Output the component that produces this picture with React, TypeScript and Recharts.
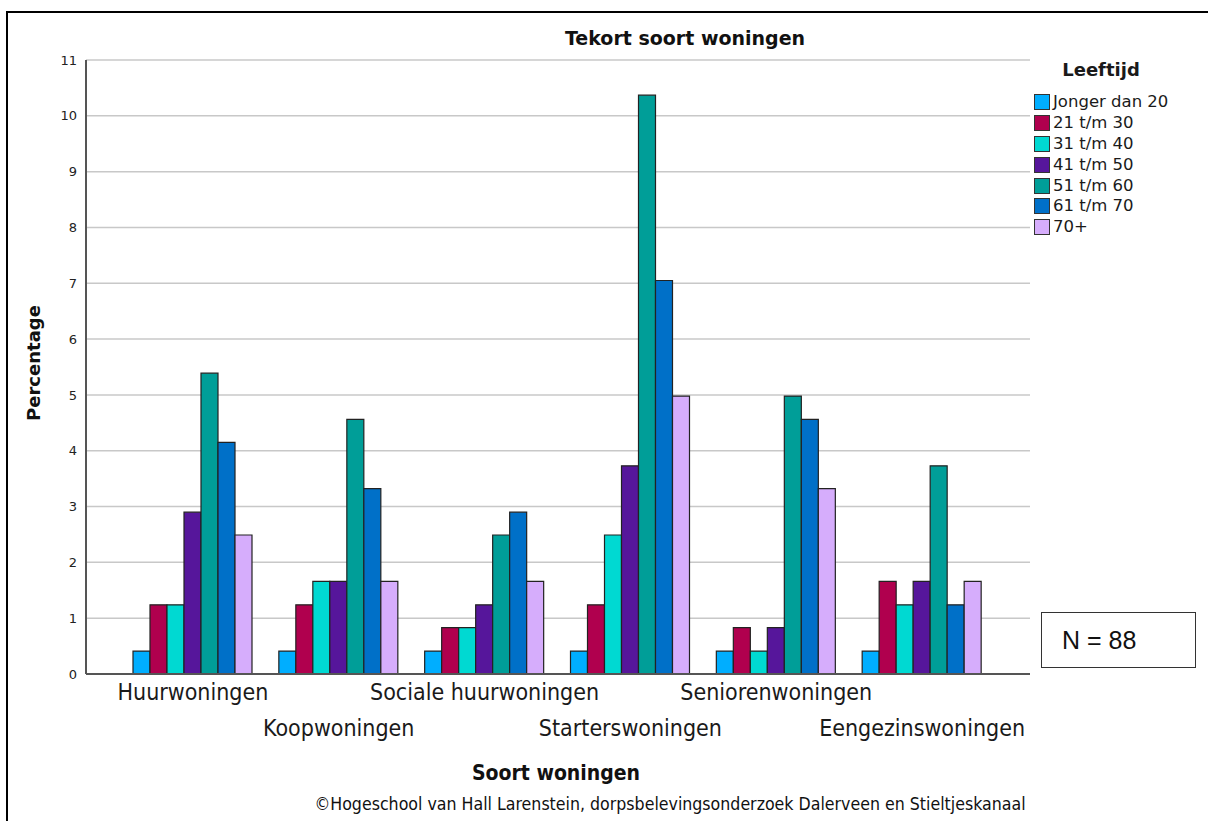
import React from 'react';
import { BarChart, Bar, XAxis, YAxis, CartesianGrid, Legend } from 'recharts';

const categories = ['Huurwoningen', 'Koopwoningen', 'Sociale huurwoningen', 'Starterswoningen', 'Seniorenwoningen', 'Eengezinswoningen'];
const seriesNames = ['Jonger dan 20', '21 t/m 30', '31 t/m 40', '41 t/m 50', '51 t/m 60', '61 t/m 70', '70+'];
const jongerDan20 = [0.41, 0.41, 0.41, 0.41, 0.41, 0.41];
const age21to30 = [1.24, 1.24, 0.83, 1.24, 0.83, 1.66];
const age31to40 = [1.24, 1.66, 0.83, 2.49, 0.41, 1.24];
const age41to50 = [2.90, 1.66, 1.24, 3.73, 0.83, 1.66];
const age51to60 = [5.39, 4.56, 2.49, 10.37, 4.98, 3.73];
const age61to70 = [4.15, 3.32, 2.90, 7.05, 4.56, 1.24];
const age70plus = [2.49, 1.66, 1.66, 4.98, 3.32, 1.66];
const yTicks = [0, 1, 2, 3, 4, 5, 6, 7, 8, 9, 10, 11];
const colors = ['#00AEFF', '#B0004E', '#00D9D2', '#56169B', '#009E98', '#0070C8', '#D6ADFC'];

const seriesValues = [jongerDan20, age21to30, age31to40, age41to50, age51to60, age61to70, age70plus];
const data = categories.map((cat, i) => {
  const row: Record<string, string | number> = { cat };
  seriesValues.forEach((vals, s) => {
    row['s' + s] = vals[i];
  });
  return row;
});

const XTick = (props: any) => {
  const { x, y, payload, index } = props;
  const dy = index % 2 === 0 ? 26 : 62;
  return (
    <text
      x={x}
      y={y + dy}
      textAnchor="middle"
      fill="#1a1a1a"
      style={{ fontFamily: '"DejaVu Sans Condensed", sans-serif', fontSize: 23 }}
    >
      {payload.value}
    </text>
  );
};

const LegendContent = () => (
  <div style={{ fontFamily: '"DejaVu Sans", sans-serif', color: '#1a1a1a' }}>
    <div style={{ fontWeight: 'bold', fontSize: 18, textAlign: 'center', width: 142, height: 34, lineHeight: '24px' }}>Leeftijd</div>
    {seriesNames.map((name, i) => (
      <div key={name} style={{ display: 'flex', alignItems: 'center', height: 20.8, marginLeft: 4 }}>
        <div style={{ width: 14, height: 14, background: colors[i], border: '1px solid #333', marginRight: 3 }} />
        <span style={{ fontSize: 16.5, lineHeight: '20px' }}>{name}</span>
      </div>
    ))}
  </div>
);

const YLabel = (p: any) => {
  const vb = p.viewBox;
  const cx = vb.x + 7;
  const cy = vb.y + vb.height / 2 - 4;
  return (
    <text
      x={cx}
      y={cy}
      transform={`rotate(-90 ${cx} ${cy})`}
      textAnchor="middle"
      dominantBaseline="central"
      fill="#111"
      style={{ fontFamily: '"DejaVu Sans", sans-serif', fontSize: 18, fontWeight: 'bold' }}
    >
      Percentage
    </text>
  );
};

const XLabel = (p: any) => {
  const vb = p.viewBox;
  const cx = vb.x + vb.width / 2 - 2;
  const cy = vb.y + 106;
  return (
    <text
      x={cx}
      y={cy}
      textAnchor="middle"
      fill="#111"
      style={{ fontFamily: '"DejaVu Sans Condensed", sans-serif', fontSize: 21, fontWeight: 'bold' }}
    >
      Soort woningen
    </text>
  );
};

export default function App() {
  return (
    <div style={{ position: 'absolute', left: 0, top: 0, width: 1208, height: 821, background: '#fff', overflow: 'hidden' }}>
      <div style={{ position: 'absolute', left: 6, top: 11, right: -10, bottom: -10, borderTop: '2px solid #000', borderLeft: '2px solid #000' }} />
      <div
        style={{
          position: 'absolute',
          left: 0,
          width: 1370,
          top: 27,
          textAlign: 'center',
          fontFamily: '"DejaVu Sans", sans-serif',
          fontWeight: 'bold',
          fontSize: 19,
          color: '#111',
        }}
      >
        Tekort soort woningen
      </div>
      <BarChart
        width={1208}
        height={821}
        data={data}
        margin={{ top: 60, right: 0, bottom: 0, left: 26 }}
        barCategoryGap={13}
        barGap={0}
        style={{ position: 'absolute', left: 0, top: 0 }}
      >
        <CartesianGrid vertical={false} stroke="#c8c8c8" strokeWidth={1.5} />
        <XAxis
          dataKey="cat"
          height={147}
          interval={0}
          padding={{ left: 34, right: 35 }}
          tickLine={false}
          tickSize={0}
          tickMargin={0}
          axisLine={{ stroke: '#555', strokeWidth: 2 }}
          tick={<XTick />}
          label={<XLabel />}
        />
        <YAxis
          width={60}
          domain={[0, 11]}
          ticks={yTicks}
          interval={0}
          tickLine={false}
          tickSize={6}
          tickMargin={3}
          axisLine={{ stroke: '#555', strokeWidth: 2 }}
          tick={{ fill: '#222', fontSize: 13, fontFamily: '"DejaVu Sans", sans-serif' }}
          label={<YLabel />}
        />
        <Legend
          layout="vertical"
          align="right"
          verticalAlign="top"
          wrapperStyle={{ position: 'absolute', left: 1030, top: 58, width: 178 }}
          content={<LegendContent />}
        />
        {seriesNames.map((name, s) => (
          <Bar
            key={name}
            dataKey={'s' + s}
            name={name}
            fill={colors[s]}
            stroke="#222"
            strokeWidth={1.2}
            isAnimationActive={false}
          />
        ))}
      </BarChart>
      <div
        style={{
          position: 'absolute',
          left: 1041,
          top: 612,
          width: 155,
          height: 56,
          border: '1.5px solid #333',
          boxSizing: 'border-box',
          fontFamily: '"Liberation Sans", Arial, sans-serif',
          fontSize: 25,
          lineHeight: '54px',
          paddingLeft: 20,
          color: '#111',
        }}
      >
        N = 88
      </div>
      <div
        style={{
          position: 'absolute',
          left: 0,
          width: 1340,
          top: 794,
          textAlign: 'center',
          fontFamily: '"DejaVu Sans Condensed", sans-serif',
          fontSize: 17.6,
          color: '#111',
        }}
      >
        ©Hogeschool van Hall Larenstein, dorpsbelevingsonderzoek Dalerveen en Stieltjeskanaal
      </div>
    </div>
  );
}
